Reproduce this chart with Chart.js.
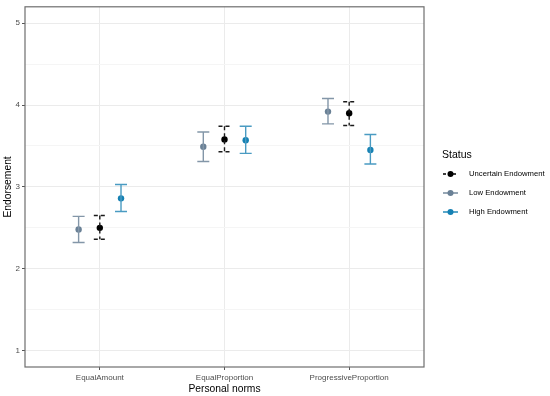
<!DOCTYPE html>
<html>
<head>
<meta charset="utf-8">
<script src="https://cdn.jsdelivr.net/npm/chart.js@4"></script>
<style>
  body { margin: 0; background: #fff; }
  #wrap { width: 550px; height: 396px; }
</style>
</head>
<body>
<div id="wrap"><canvas id="chart" width="550" height="396"></canvas></div>
<script>
// categories on the x axis
const categories = ['EqualAmount', 'EqualProportion', 'ProgressiveProportion']
const statusNames = ['Uncertain Endowment', 'Low Endowment', 'High Endowment']

// means and confidence limits, one value per category
const uncertainMean = [2.50, 3.58, 3.90]
const uncertainLow = [2.36, 3.43, 3.75]
const uncertainHigh = [2.65, 3.74, 4.04]

const lowMean = [2.48, 3.49, 3.92]
const lowLow = [2.32, 3.31, 3.77]
const lowHigh = [2.64, 3.67, 4.08]

const highMean = [2.86, 3.57, 3.45]
const highLow = [2.70, 3.41, 3.28]
const highHigh = [3.03, 3.74, 3.64]

const yTicks = [1, 1.5, 2, 2.5, 3, 3.5, 4, 4.5, 5]
const xTicks = [1, 2, 3]

const dodge = {uncertain: 0, low: -0.17, high: 0.17}

const makePoints = (mean, lo, hi, off) => mean.map((m, i) => ({x: i + 1 + off, y: m, lo: lo[i], hi: hi[i]}))

const series = [
    {label: statusNames[0], data: makePoints(uncertainMean, uncertainLow, uncertainHigh, dodge.uncertain),
        color: '#000000', barColor: '#1a1a1a', dash: [4, 3]},
    {label: statusNames[1], data: makePoints(lowMean, lowLow, lowHigh, dodge.low),
        color: '#6a8196', barColor: '#8396a8', dash: []},
    {label: statusNames[2], data: makePoints(highMean, highLow, highHigh, dodge.high),
        color: '#1581b3', barColor: '#4a9bc2', dash: []}
]

const FONT = '"Liberation Sans", Arial, sans-serif'

// draws the error bars, panel border and the legend
const errorBarPlugin = {
    id: 'errorBars',
    afterDatasetsDraw(chart){
        const ctx = chart.ctx
        const xs = chart.scales.x
        const ys = chart.scales.y
        const cap = 6
        chart.data.datasets.forEach((ds, di) => {
            const s = series[di]
            ctx.save()
            ctx.strokeStyle = s.barColor
            ctx.lineWidth = 1.4
            ctx.setLineDash(s.dash)
            ds.data.forEach(p => {
                const px = xs.getPixelForValue(p.x)
                const top = ys.getPixelForValue(p.hi)
                const bot = ys.getPixelForValue(p.lo)
                ctx.beginPath()
                ctx.moveTo(px, top); ctx.lineTo(px, bot)
                ctx.moveTo(px - cap, top); ctx.lineTo(px + cap, top)
                ctx.moveTo(px - cap, bot); ctx.lineTo(px + cap, bot)
                ctx.stroke()
            })
            ctx.restore()
        })
    },
    afterDraw(chart){
        const ctx = chart.ctx
        const a = chart.chartArea
        ctx.save()
        ctx.strokeStyle = '#6e6e6e'
        ctx.lineWidth = 1.2
        ctx.strokeRect(a.left, a.top, a.right - a.left, a.bottom - a.top)

        // legend
        ctx.fillStyle = '#000'
        ctx.font = '10.5px ' + FONT
        ctx.textBaseline = 'middle'
        ctx.fillText('Status', 442, 155)
        ctx.font = '7.7px ' + FONT
        const rows = [174, 193, 212]
        series.forEach((s, i) => {
            const y = rows[i]
            ctx.strokeStyle = s.color
            ctx.lineWidth = 1.4
            ctx.setLineDash(s.dash.length ? [3, 2] : [])
            ctx.beginPath(); ctx.moveTo(443, y); ctx.lineTo(458, y); ctx.stroke()
            ctx.setLineDash([])
            ctx.fillStyle = s.color
            ctx.beginPath(); ctx.arc(450.5, y, 3, 0, Math.PI * 2); ctx.fill()
            ctx.fillStyle = '#000'
            ctx.fillText(s.label, 469, y)
        })
        ctx.restore()
    }
}

new Chart(document.getElementById('chart'), {
    type: 'scatter',
    data: {
        datasets: series.map(s => ({
            label: s.label,
            data: s.data,
            backgroundColor: s.color,
            borderColor: s.color,
            pointRadius: 3.2,
            pointBorderWidth: 0
        }))
    },
    options: {
        responsive: false,
        animation: false,
        layout: {padding: {top: 5, right: 126, left: 0, bottom: 0}},
        plugins: {legend: {display: false}, tooltip: {enabled: false}},
        scales: {
            x: {
                type: 'linear',
                min: 0.4,
                max: 3.6,
                afterBuildTicks: scale => { scale.ticks = xTicks.map(v => ({value: v})) },
                afterFit: scale => { scale.height = 29 },
                ticks: {
                    callback: v => categories[v - 1],
                    color: '#4d4d4d',
                    font: {size: 8, family: FONT},
                    padding: 3,
                    maxRotation: 0
                },
                grid: {color: '#ebebeb', lineWidth: 1, tickLength: 3, tickColor: '#555', tickWidth: 1},
                border: {display: false},
                title: {display: true, text: 'Personal norms', color: '#000', font: {size: 10.3, family: FONT}, padding: {top: 0, bottom: 1}}
            },
            y: {
                type: 'linear',
                min: 0.8,
                max: 5.2,
                afterBuildTicks: scale => { scale.ticks = yTicks.map(v => ({value: v})) },
                afterFit: scale => { scale.width = 25 },
                ticks: {
                    callback: v => Number.isInteger(v) ? String(v) : '',
                    color: '#4d4d4d',
                    font: {size: 8, family: FONT},
                    padding: 2
                },
                grid: {
                    color: c => Number.isInteger(c.tick.value) ? '#ebebeb' : '#f5f5f5',
                    tickColor: c => Number.isInteger(c.tick.value) ? '#555' : 'rgba(0,0,0,0)',
                    lineWidth: 1,
                    tickLength: 3,
                    tickWidth: 1
                },
                border: {display: false},
                title: {display: true, text: 'Endorsement', color: '#000', font: {size: 10.3, family: FONT}, padding: {top: 2, bottom: 0}}
            }
        }
    },
    plugins: [errorBarPlugin]
})
</script>
</body>
</html>
